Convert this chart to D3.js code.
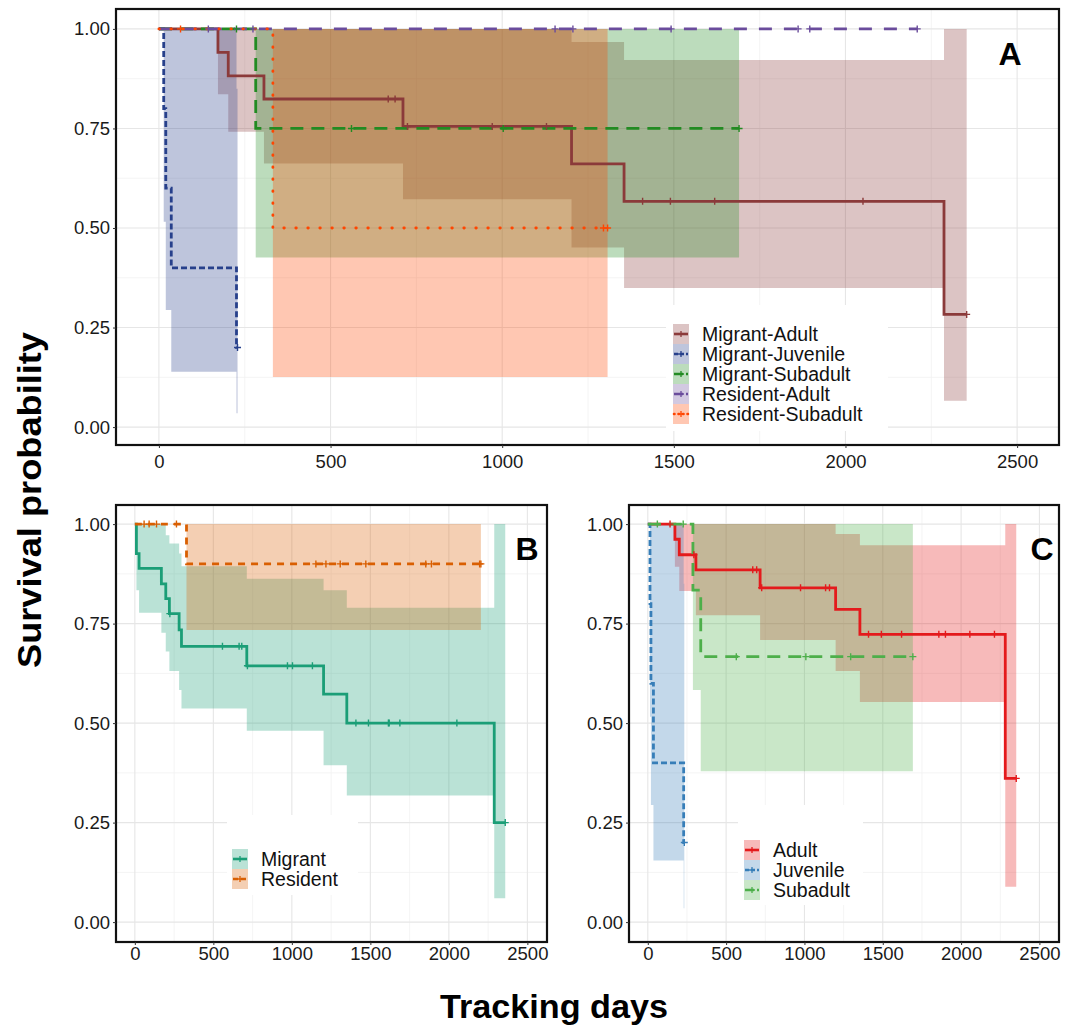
<!DOCTYPE html>
<html>
<head>
<meta charset="utf-8">
<script src="https://cdn.jsdelivr.net/npm/d3@7"></script>
<style>
  body { margin: 0; background: #fff; }
  svg { display: block; }
  text { font-family: "Liberation Sans", Arial, sans-serif; }
</style>
</head>
<body>
<svg id="chart" width="1065" height="1026"></svg>
<script>
// ---------- Kaplan–Meier estimates (step times in tracking days) ----------

// Panel A: migration strategy x age class
const migAdultTime   = [0, 172, 202, 306, 711, 1202, 1355, 2287];
const migAdultSurv   = [1, 0.941, 0.882, 0.824, 0.755, 0.661, 0.567, 0.283];
const migAdultUpper  = [1, 1, 1, 1, 1, 0.967, 0.922, 1];
const migAdultLower  = [1, 0.836, 0.742, 0.662, 0.572, 0.451, 0.349, 0.066];
const migAdultEnd    = 2353;
const migAdultCens   = [668, 688, 724, 971, 1129, 1409, 1490, 1619, 2051, 2353];

const migJuvTime     = [0, 14, 20, 36, 226];
const migJuvSurv     = [1, 0.8, 0.6, 0.4, 0.2];
const migJuvUpper    = [1, 1, 1, 1, 0.85];
const migJuvLower    = [1, 0.516, 0.294, 0.139, 0.035];
const migJuvEnd      = 229;
const migJuvCens     = [229];

const migSubTime     = [0, 282];
const migSubSurv     = [1, 0.75];
const migSubUpper    = [1, 1];
const migSubLower    = [1, 0.426];
const migSubEnd      = 1690;
const migSubCens     = [226, 561, 1003, 1690];

const resAdultTime   = [0];
const resAdultSurv   = [1];
const resAdultUpper  = [1];
const resAdultLower  = [1];
const resAdultEnd    = 2209;
const resAdultCens   = [144, 274, 1154, 1206, 1492, 1862, 1896, 2209];

const resSubTime     = [0, 332];
const resSubSurv     = [1, 0.5];
const resSubUpper    = [1, 1];
const resSubLower    = [1, 0.126];
const resSubEnd      = 1307;
const resSubCens     = [63, 1295, 1307];

// Panel B: migration strategy
const migrantTime    = [0, 10, 27, 169, 197, 220, 282, 297, 713, 1202, 1350, 2289];
const migrantSurv    = [1, 0.926, 0.889, 0.85, 0.813, 0.775, 0.734, 0.693, 0.644, 0.573, 0.5, 0.25];
const migrantUpper   = [1, 1, 1, 1, 0.972, 0.951, 0.926, 0.894, 0.863, 0.834, 0.79, 1];
const migrantLower   = [1, 0.834, 0.777, 0.727, 0.68, 0.631, 0.583, 0.537, 0.481, 0.394, 0.318, 0.06];
const migrantEnd     = 2359;
const migrantCens    = [223, 558, 664, 681, 717, 972, 1004, 1131, 1408, 1488, 1615, 1620, 1688, 2051, 2359];

const residentTime   = [0, 329];
const residentSurv   = [1, 0.9];
const residentUpper  = [1, 1];
const residentLower  = [1, 0.734];
const residentEnd    = 2204;
const residentCens   = [59, 91, 138, 265, 1153, 1217, 1308, 1471, 1853, 1889, 2196, 2204];

// Panel C: age class
const adultTime      = [0, 173, 201, 307, 717, 1199, 1354, 2282];
const adultSurv      = [1, 0.962, 0.923, 0.885, 0.84, 0.786, 0.723, 0.361];
const adultUpper     = [1, 1, 1, 1, 1, 0.975, 0.947, 1];
const adultLower     = [1, 0.893, 0.832, 0.771, 0.709, 0.631, 0.553, 0.089];
const adultEnd       = 2352;
const adultCens      = [142, 294, 670, 695, 727, 975, 1135, 1160, 1409, 1491, 1620, 1858, 1900, 2056, 2213, 2352];

const juvTime        = [0, 14, 20, 36, 229];
const juvSurv        = [1, 0.8, 0.6, 0.4, 0.2];
const juvUpper       = [1, 1, 1, 1, 0.85];
const juvLower       = [1, 0.516, 0.294, 0.155, 0.035];
const juvEnd         = 233;
const juvCens        = [233];

const subTime        = [0, 288, 338];
const subSurv        = [1, 0.834, 0.667];
const subUpper       = [1, 1, 1];
const subLower       = [1, 0.583, 0.379];
const subEnd         = 1692;
const subCens        = [61, 226, 565, 1009, 1295, 1692];

// Axis ticks
const xTicks = [0, 500, 1000, 1500, 2000, 2500];
const xMinor = [250, 750, 1250, 1750, 2250];
const yTicks = [0, 0.25, 0.5, 0.75, 1];
const yMinor = [0.125, 0.375, 0.625, 0.875];

// ---------- helpers ----------
function makeSeries(name, color, dash, time, surv, upper, lower, end, cens, cap) {
  const pts = time.map((t, i) => ({ t, s: surv[i], u: upper[i], l: lower[i] }));
  const last = pts[pts.length - 1];
  pts.push({ t: end, s: last.s, u: last.u, l: last.l });
  return { name, color, dash, pts, time, surv, cens, cap: cap || "butt" };
}
function survAt(sr, t) {
  let s = sr.surv[0];
  for (let i = 0; i < sr.time.length; i++) if (sr.time[i] <= t) s = sr.surv[i];
  return s;
}

const svg = d3.select("#chart");
let clipId = 0;

function drawPanel(cfg) {
  const x = d3.scaleLinear().domain(cfg.xDomain).range([cfg.left, cfg.right]);
  const y = d3.scaleLinear().domain(cfg.yDomain).range([cfg.bottom, cfg.top]);
  const g = svg.append("g");
  const id = "clip" + (clipId++);
  g.append("clipPath").attr("id", id).append("rect")
    .attr("x", cfg.left).attr("y", cfg.top)
    .attr("width", cfg.right - cfg.left).attr("height", cfg.bottom - cfg.top);

  // grid
  const grid = g.append("g");
  xMinor.forEach(v => grid.append("line").attr("x1", x(v)).attr("x2", x(v))
    .attr("y1", cfg.top).attr("y2", cfg.bottom).attr("stroke", "#f1f1f1").attr("stroke-width", 0.8));
  yMinor.forEach(v => grid.append("line").attr("y1", y(v)).attr("y2", y(v))
    .attr("x1", cfg.left).attr("x2", cfg.right).attr("stroke", "#f1f1f1").attr("stroke-width", 0.8));
  xTicks.forEach(v => grid.append("line").attr("x1", x(v)).attr("x2", x(v))
    .attr("y1", cfg.top).attr("y2", cfg.bottom).attr("stroke", "#e6e6e6").attr("stroke-width", 1.1));
  yTicks.forEach(v => grid.append("line").attr("y1", y(v)).attr("y2", y(v))
    .attr("x1", cfg.left).attr("x2", cfg.right).attr("stroke", "#e6e6e6").attr("stroke-width", 1.1));

  // legend background sits over the grid
  const lg = cfg.legend;
  g.append("rect").attr("x", lg.box[0]).attr("y", lg.box[1])
    .attr("width", lg.box[2]).attr("height", lg.box[3]).attr("fill", "#fff");

  const plot = g.append("g").attr("clip-path", `url(#${id})`);
  const area = d3.area().x(d => x(d.t)).y0(d => y(d.l)).y1(d => y(d.u)).curve(d3.curveStepAfter);
  const line = d3.line().x(d => x(d.t)).y(d => y(d.s)).curve(d3.curveStepAfter);

  cfg.series.forEach(sr => {
    plot.append("path").attr("d", area(sr.pts)).attr("fill", sr.color).attr("fill-opacity", 0.3);
  });
  cfg.series.forEach(sr => {
    plot.append("path").attr("d", line(sr.pts)).attr("fill", "none")
      .attr("stroke", sr.color).attr("stroke-width", cfg.lw)
      .attr("stroke-dasharray", sr.dash).attr("stroke-linecap", sr.cap);
  });
  cfg.series.forEach(sr => {
    sr.cens.forEach(t => {
      const cx = x(t), cy = y(survAt(sr, t)), h = 3.5;
      plot.append("path").attr("d", `M${cx - h},${cy}H${cx + h}M${cx},${cy - h}V${cy + h}`)
        .attr("stroke", sr.color).attr("stroke-width", 1.4).attr("fill", "none");
    });
  });

  // frame
  g.append("rect").attr("x", cfg.left).attr("y", cfg.top)
    .attr("width", cfg.right - cfg.left).attr("height", cfg.bottom - cfg.top)
    .attr("fill", "none").attr("stroke", "#111").attr("stroke-width", 2.2);

  // axes
  const ya = g.append("g").attr("transform", `translate(${cfg.left},0)`)
    .call(d3.axisLeft(y).tickValues(yTicks).tickFormat(d3.format(".2f")).tickSize(3).tickPadding(3));
  const xa = g.append("g").attr("transform", `translate(0,${cfg.bottom})`)
    .call(d3.axisBottom(x).tickValues(xTicks).tickFormat(d3.format("d")).tickSize(3).tickPadding(cfg.xPad));
  [ya, xa].forEach(a => {
    a.select(".domain").remove();
    a.selectAll(".tick line").attr("stroke", "#333");
    a.selectAll(".tick text").attr("fill", "#1a1a1a").style("font-size", "18.5px")
      .style("font-family", "'Liberation Sans', Arial, sans-serif");
  });

  // legend keys
  cfg.series.forEach((sr, i) => {
    const cy = lg.rows[i], sx = lg.sx;
    g.append("rect").attr("x", sx).attr("y", cy - lg.step / 2).attr("width", 16).attr("height", lg.step)
      .attr("fill", sr.color).attr("fill-opacity", 0.3);
    g.append("line").attr("x1", sx + 1).attr("x2", sx + 15).attr("y1", cy).attr("y2", cy)
      .attr("stroke", sr.color).attr("stroke-width", 2.6)
      .attr("stroke-dasharray", sr.legendDash || sr.dash).attr("stroke-linecap", sr.cap);
    g.append("path").attr("d", `M${sx + 5},${cy}H${sx + 11}M${sx + 8},${cy - 3}V${cy + 3}`)
      .attr("stroke", sr.color).attr("stroke-width", 1.3);
    g.append("text").attr("x", lg.tx).attr("y", cy).attr("dy", "0.36em")
      .attr("fill", "#111").style("font-size", "19.5px").text(sr.name);
  });

  // panel letter
  g.append("text").attr("x", cfg.letter[0]).attr("y", cfg.letter[1]).attr("text-anchor", "middle")
    .style("font-size", "32px").style("font-weight", "bold").attr("fill", "#000").text(cfg.letter[2]);
}

// ---------- series ----------
const seriesA = [
  makeSeries("Migrant-Adult", "#8B3A3A", null, migAdultTime, migAdultSurv, migAdultUpper, migAdultLower, migAdultEnd, migAdultCens),
  makeSeries("Migrant-Juvenile", "#27408B", "6,3", migJuvTime, migJuvSurv, migJuvUpper, migJuvLower, migJuvEnd, migJuvCens),
  makeSeries("Migrant-Subadult", "#228B22", "13,8", migSubTime, migSubSurv, migSubUpper, migSubLower, migSubEnd, migSubCens),
  makeSeries("Resident-Adult", "#6A4C9C", "13,12", resAdultTime, resAdultSurv, resAdultUpper, resAdultLower, resAdultEnd, resAdultCens),
  makeSeries("Resident-Subadult", "#FF4500", "0.5,11.5", resSubTime, resSubSurv, resSubUpper, resSubLower, resSubEnd, resSubCens, "round")
];
seriesA[1].legendDash = "4,2";
seriesA[2].legendDash = "9,3";
seriesA[3].legendDash = "9,3";
seriesA[4].legendDash = "0.5,4";

const seriesB = [
  makeSeries("Migrant", "#1B9E77", null, migrantTime, migrantSurv, migrantUpper, migrantLower, migrantEnd, migrantCens),
  makeSeries("Resident", "#D95F02", "7,6", residentTime, residentSurv, residentUpper, residentLower, residentEnd, residentCens)
];
seriesB[1].legendDash = "5,3";

const seriesC = [
  makeSeries("Adult", "#E41A1C", null, adultTime, adultSurv, adultUpper, adultLower, adultEnd, adultCens),
  makeSeries("Juvenile", "#377EB8", "6,3", juvTime, juvSurv, juvUpper, juvLower, juvEnd, juvCens),
  makeSeries("Subadult", "#4DAF4A", "13,8", subTime, subSurv, subUpper, subLower, subEnd, subCens)
];
seriesC[1].legendDash = "4,2";
seriesC[2].legendDash = "9,3";

// ---------- panels ----------
drawPanel({
  left: 116, right: 1059, top: 9, bottom: 445,
  xDomain: [-125, 2622], yDomain: [-0.045, 1.05], lw: 2.8, xPad: 7,
  series: seriesA,
  legend: { box: [666, 305, 222, 126], rows: [334, 354, 374, 394, 414], step: 20, sx: 673, tx: 702 },
  letter: [1010, 65, "A"]
});
drawPanel({
  left: 116, right: 547, top: 505, bottom: 942,
  xDomain: [-120, 2625], yDomain: [-0.05, 1.048], lw: 2.8, xPad: 2,
  series: seriesB,
  legend: { box: [227, 815, 131, 80], rows: [859, 879], step: 20, sx: 232, tx: 261 },
  letter: [527, 560, "B"]
});
drawPanel({
  left: 629, right: 1059, top: 505, bottom: 942,
  xDomain: [-120, 2625], yDomain: [-0.05, 1.048], lw: 2.8, xPad: 2,
  series: seriesC,
  legend: { box: [738, 805, 125, 100], rows: [850, 870, 890], step: 20, sx: 744, tx: 773 },
  letter: [1042, 560, "C"]
});

// ---------- shared axis titles ----------
svg.append("text").attr("transform", "translate(41,500) rotate(-90)")
  .attr("text-anchor", "middle").style("font-size", "34px").style("font-weight", "bold")
  .attr("textLength", 336).attr("lengthAdjust", "spacingAndGlyphs")
  .attr("fill", "#000").text("Survival probability");
svg.append("text").attr("x", 554).attr("y", 1018)
  .attr("text-anchor", "middle").style("font-size", "34px").style("font-weight", "bold")
  .attr("textLength", 228).attr("lengthAdjust", "spacingAndGlyphs")
  .attr("fill", "#000").text("Tracking days");
</script>
</body>
</html>
